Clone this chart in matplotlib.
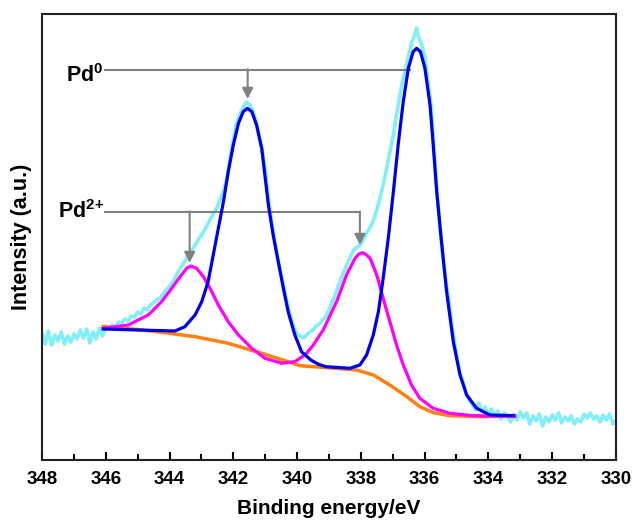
import matplotlib
matplotlib.use('Agg')
import matplotlib.pyplot as plt

plt.rcParams['font.family'] = ['Liberation Sans', 'DejaVu Sans']
plt.rcParams['font.weight'] = 'bold'
plt.rcParams['mathtext.fontset'] = 'custom'
plt.rcParams['mathtext.bf'] = 'Liberation Sans:bold'
plt.rcParams['mathtext.rm'] = 'Liberation Sans'

# raw spectrum (binding energy in eV, intensity a.u.)
raw_be = [348.0, 347.9, 347.8, 347.7, 347.6, 347.5, 347.4, 347.3, 347.2, 347.1, 347.0,
          346.9, 346.8, 346.7, 346.6, 346.5, 346.4, 346.3, 346.2, 346.1, 346.0,
          345.9, 345.8, 345.7, 345.6, 345.5, 345.4, 345.3, 345.2, 345.1, 345.0,
          344.9, 344.8, 344.7, 344.6, 344.5, 344.4, 344.3, 344.2, 344.1, 344.0,
          343.9, 343.8, 343.7, 343.6, 343.5, 343.4, 343.3, 343.2, 343.1, 343.0,
          342.9, 342.8, 342.7, 342.6, 342.5, 342.4, 342.3, 342.2, 342.1, 342.0,
          341.9, 341.8, 341.7, 341.6, 341.5, 341.4, 341.3, 341.2, 341.1, 341.0,
          340.9, 340.8, 340.7, 340.6, 340.5, 340.4, 340.3, 340.2, 340.1, 340.0,
          339.9, 339.8, 339.7, 339.6, 339.5, 339.4, 339.3, 339.2, 339.1, 339.0,
          338.9, 338.8, 338.7, 338.6, 338.5, 338.4, 338.3, 338.2, 338.1, 338.0,
          337.9, 337.8, 337.7, 337.6, 337.5, 337.4, 337.3, 337.2, 337.1, 337.0,
          336.9, 336.8, 336.7, 336.6, 336.5, 336.4, 336.3, 336.25, 336.2, 336.1,
          336.0, 335.9, 335.8, 335.7, 335.6, 335.5, 335.4, 335.3, 335.2, 335.1,
          335.0, 334.9, 334.8, 334.7, 334.6, 334.5, 334.4, 334.3, 334.2, 334.1,
          334.0, 333.9, 333.8, 333.7, 333.6, 333.5, 333.4, 333.3, 333.2, 333.1,
          333.0, 332.9, 332.8, 332.7, 332.6, 332.5, 332.4, 332.3, 332.2, 332.1,
          332.0, 331.9, 331.8, 331.7, 331.6, 331.5, 331.4, 331.3, 331.2, 331.1,
          331.0, 330.9, 330.8, 330.7, 330.6, 330.5, 330.4, 330.3, 330.2, 330.1, 330.0]
raw_int = [127, 116, 129, 115, 125, 119, 128, 116, 124, 118, 126,
           121, 130, 122, 131, 117, 128, 121, 132, 124, 134,
           131, 135, 133, 138, 137, 141, 139, 144, 143, 148,
           146, 152, 150, 155, 157, 160, 162, 166, 170, 174,
           178, 184, 190, 195, 200, 206, 210, 215, 220, 225,
           230, 236, 242, 248, 253, 262, 270, 281, 302, 320,
           336, 345, 352, 358, 356, 350, 340, 325, 311, 290,
           262, 238, 218, 200, 185, 170, 155, 143, 132, 126,
           124, 122, 125, 128, 130, 134, 136, 140, 144, 150,
           158, 166, 175, 183, 191, 198, 205, 211, 213, 216,
           222, 228, 233, 240, 250, 262, 275, 290, 306, 322,
           342, 360, 378, 390, 405, 418, 426, 432, 424, 416,
           405, 380, 355, 310, 262, 225, 195, 172, 150, 125,
           105, 88, 78, 66, 60, 55, 50, 57, 48, 53,
           45, 51, 43, 49, 41, 47, 44, 38, 46, 40,
           48, 42, 47, 36, 44, 39, 46, 34, 43, 38,
           45, 40, 47, 37, 43, 39, 44, 36, 41, 38,
           46, 42, 47, 41, 44, 38, 45, 40, 46, 36, 40]

# Pd0 fitted envelope (3d3/2 + 3d5/2 on background)
pd0_be = [346.08, 345.0, 343.83, 343.52, 343.20, 342.99, 342.79, 342.63, 342.47, 342.31,
          342.16, 342.0, 341.84, 341.69, 341.56, 341.42, 341.27, 341.11, 341.01, 340.90,
          340.75, 340.59, 340.43, 340.28, 340.07, 339.86, 339.57, 339.35, 339.10, 338.34,
          338.03, 337.82, 337.61, 337.45, 337.30, 337.14, 336.98, 336.83, 336.67, 336.51,
          336.36, 336.25, 336.13, 335.99, 335.83, 335.73, 335.62, 335.47, 335.31, 335.10,
          334.89, 334.68, 334.37, 333.95, 333.22]
pd0_int = [131.0, 130, 129, 133.3, 145, 158.3, 178.3, 205, 231.7, 258.3,
           288.3, 315, 336.7, 348.3, 351.7, 348.3, 335, 311.7, 285, 255,
           225, 198.3, 171.7, 148.3, 125, 108.3, 100, 96, 93.3, 91.7,
           95, 105, 125, 148.3, 181.7, 221.7, 268.3, 315, 358.3, 391.7,
           408.3, 411.7, 408.3, 391.7, 355, 315, 268.3, 218.3, 168.3, 118.3,
           85, 65, 51.7, 45, 44.3]

# Pd2+ fitted envelope
pd2_be = [346.08, 345.29, 344.67, 344.25, 343.93, 343.67, 343.46, 343.34, 343.15, 342.94,
          342.73, 342.47, 342.16, 341.84, 341.42, 341.01, 340.48, 340.07, 339.91, 339.70,
          339.49, 339.18, 338.76, 338.45, 338.18, 338.06, 337.94, 337.82, 337.71, 337.50,
          337.30, 337.09, 336.88, 336.67, 336.41, 336.15, 335.73, 335.21, 334.48, 333.17]
pd2_int = [131.7, 135, 145, 158.3, 171.7, 183.3, 191.7, 194, 191.7, 183.3,
           171.7, 155, 138.3, 125, 111.7, 101.7, 96.7, 98.3, 101.7, 106.7,
           115, 130, 158.3, 185, 201.7, 206, 207.3, 205, 201.7, 185,
           161.7, 138.3, 115, 95, 75, 61.7, 51.7, 46.7, 44.3, 43.7]

# Shirley background
bg_be = [346.08, 345.0, 344.25, 343.20, 342.16, 341.11, 340.28, 339.91, 339.13, 338.13,
         337.61, 337.09, 336.56, 336.15, 335.73, 335.21, 334.16, 333.17]
bg_int = [133.3, 130.5, 127.7, 123.3, 116.7, 106.7, 98.3, 94.3, 92.5, 90,
          85, 75, 63.3, 53.3, 47.3, 44.3, 43.3, 44.3]

fig = plt.figure(figsize=(6.33, 5.23), dpi=100)
ax = fig.add_axes([0.0664, 0.1205, 0.9066, 0.8527])

ax.plot(raw_be, raw_int, color='#80eff7', lw=2.6, zorder=1)
ax.plot(bg_be, bg_int, color='#ff8010', lw=2.5, zorder=2)
ax.plot(pd2_be, pd2_int, color='#ff00ff', lw=2.3, zorder=3)
ax.plot(pd0_be, pd0_int, color='#0000e8', lw=2.3, zorder=4)

# labels with pointer arrows
grey = '#808080'
arrow = dict(arrowstyle='-|>', color=grey, lw=1.5, mutation_scale=16, shrinkA=0, shrinkB=0)
ax.text(346.06, 378.3, 'Pd$^{\\mathbf{0}}$', ha='right', va='baseline', fontsize=15.5, fontweight='bold')
ax.plot([346.04, 336.45], [390, 390], color=grey, lw=1.5)
ax.annotate('', xy=(341.55, 361), xytext=(341.55, 390.8), arrowprops=arrow)

ax.text(346.06, 241.7, 'Pd$^{\\mathbf{2{+}}}$', ha='right', va='baseline', fontsize=15.5, fontweight='bold')
ax.plot([346.04, 338.03], [247.7, 247.7], color=grey, lw=1.5)
ax.annotate('', xy=(343.37, 197), xytext=(343.37, 248.5), arrowprops=arrow)
ax.annotate('', xy=(338.03, 215), xytext=(338.03, 248.5), arrowprops=arrow)

ax.set_xlim(348, 330)
ax.set_ylim(0, 446)
ax.set_xticks(range(348, 329, -2))
ax.set_xticks(range(347, 330, -2), minor=True)
ax.set_yticks([])
ax.tick_params(axis='x', which='major', direction='in', length=6, width=1.5, labelsize=13.5, pad=8)
ax.tick_params(axis='x', which='minor', direction='in', length=4, width=1.5)
for lab in ax.get_xticklabels():
    lab.set_fontweight('bold')
for s in ax.spines.values():
    s.set_linewidth(1.5)
    s.set_color('#222222')

ax.set_xlabel('Binding energy/eV', fontsize=15, fontweight='bold', labelpad=8)
ax.set_ylabel('Intensity (a.u.)', fontsize=15.5, fontweight='bold', labelpad=7)

fig.savefig('out.png', dpi=100)
